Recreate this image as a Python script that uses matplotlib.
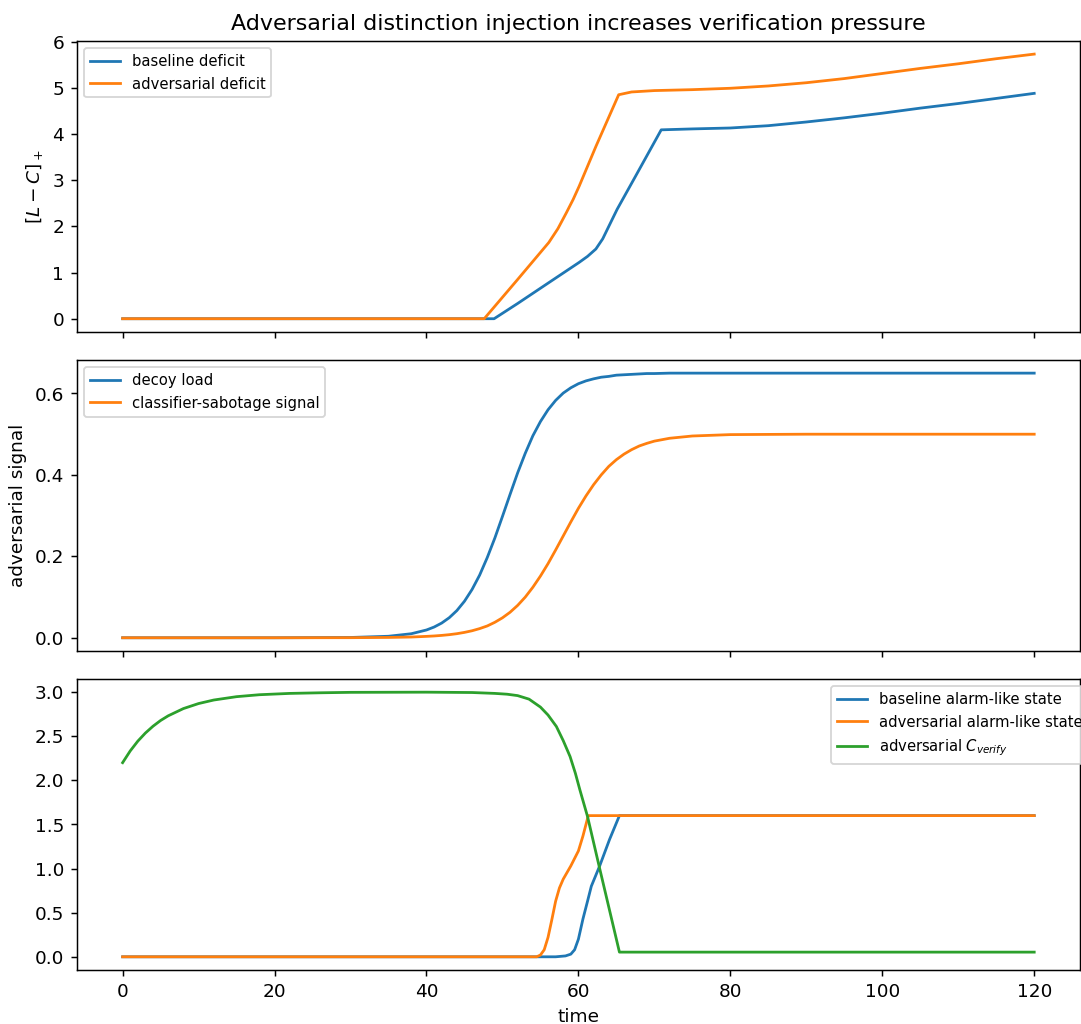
import matplotlib
matplotlib.use("Agg")
import matplotlib.pyplot as plt

# top panel: deficit [L - C]+
t_base_def = [0, 10, 20, 30, 40, 48.9, 52, 56, 60.1, 61.2, 62.3, 63.2, 64, 65.1,
              67.4, 70.9, 75, 80, 85, 90, 95, 100, 105, 110, 115, 120]
base_def = [0, 0, 0, 0, 0, 0, 0.33, 0.77, 1.22, 1.35, 1.51, 1.73, 2.0, 2.37,
            3.05, 4.09, 4.11, 4.13, 4.18, 4.26, 4.35, 4.45, 4.56, 4.66, 4.77, 4.88]
t_adv_def = [0, 10, 20, 30, 40, 47.6, 52, 56.1, 57.3, 58.4, 59.3, 60.1, 62.3,
             65.3, 67, 70, 75, 80, 85, 90, 95, 100, 105, 110, 115, 120]
adv_def = [0, 0, 0, 0, 0, 0, 0.85, 1.65, 1.95, 2.29, 2.58, 2.87, 3.73,
           4.85, 4.91, 4.94, 4.96, 4.99, 5.04, 5.11, 5.20, 5.31, 5.42, 5.52, 5.63, 5.73]

# middle panel: adversarial signals
t_sig = [0, 20, 30, 35, 38, 40, 41, 42, 43, 44, 45, 46, 47, 48, 49, 50, 51, 52,
         53, 54, 55, 56, 57, 58, 59, 60, 61, 62, 63, 64, 65, 66, 67, 68, 69, 70,
         72, 75, 80, 90, 120]
decoy = [0, 0, 0.0007, 0.0037, 0.0099, 0.0191, 0.0263, 0.0361, 0.0493, 0.0668,
         0.0897, 0.1186, 0.154, 0.197, 0.245, 0.298, 0.352, 0.405, 0.453, 0.496,
         0.531, 0.560, 0.583, 0.601, 0.614, 0.624, 0.631, 0.636, 0.640, 0.642,
         0.645, 0.646, 0.647, 0.648, 0.649, 0.649, 0.650, 0.650, 0.650, 0.650, 0.650]
sabotage = [0, 0, 0.0002, 0.0008, 0.0018, 0.0034, 0.0044, 0.0058, 0.0076, 0.010,
            0.0132, 0.0172, 0.0225, 0.029, 0.038, 0.049, 0.0626, 0.0795, 0.0998,
            0.124, 0.1515, 0.182, 0.2155, 0.250, 0.2845, 0.318, 0.3485, 0.376,
            0.400, 0.421, 0.4375, 0.451, 0.462, 0.471, 0.4775, 0.483, 0.490,
            0.4956, 0.499, 0.500, 0.500]

# bottom panel: alarm-like states and C_verify
t_base_alarm = [0, 20, 40, 55, 57, 58.3, 59, 59.5, 60, 60.6, 61.2, 61.7, 62.8,
                64.1, 65.4, 80, 100, 120]
base_alarm = [0, 0, 0, 0, 0, 0.01, 0.03, 0.08, 0.2, 0.43, 0.63, 0.80, 1.03,
              1.33, 1.6, 1.6, 1.6, 1.6]
t_adv_alarm = [0, 20, 40, 54.5, 55, 55.5, 56, 56.5, 57, 57.5, 58, 59, 60,
               60.6, 61.3, 80, 100, 120]
adv_alarm = [0, 0, 0, 0, 0.02, 0.08, 0.22, 0.42, 0.63, 0.78, 0.88, 1.03, 1.2,
             1.37, 1.6, 1.6, 1.6, 1.6]
t_cver = [0, 1, 2, 3, 4, 5, 6, 8, 10, 12, 15, 18, 22, 26, 30, 40, 46, 49,
          50.6, 52, 53.5, 55, 56, 57.1, 58, 58.9, 59.6, 60.2, 61.2, 62.8, 65.4,
          80, 100, 120]
c_verify = [2.2, 2.333, 2.444, 2.536, 2.613, 2.678, 2.731, 2.813, 2.870, 2.910,
            2.948, 2.970, 2.985, 2.992, 2.997, 2.999, 2.995, 2.985, 2.976, 2.96,
            2.92, 2.83, 2.74, 2.61, 2.45, 2.27, 2.08, 1.89, 1.59, 1.0, 0.053,
            0.053, 0.053, 0.053]

fig, (ax1, ax2, ax3) = plt.subplots(3, 1, sharex=True, figsize=(8.135, 7.70), dpi=133)
fig.subplots_adjust(left=0.0712, right=0.998, top=0.96, bottom=0.0527, hspace=0.096)

ax1.plot(t_base_def, base_def, label="baseline deficit")
ax1.plot(t_adv_def, adv_def, label="adversarial deficit")
ax1.set_ylabel(r"$[L-C]_+$")
ax1.set_title("Adversarial distinction injection increases verification pressure")
ax1.legend(loc="upper left", fontsize=8)

ax2.plot(t_sig, decoy, label="decoy load")
ax2.plot(t_sig, sabotage, label="classifier-sabotage signal")
ax2.set_ylabel("adversarial signal")
ax2.legend(loc="upper left", fontsize=8)

ax3.plot(t_base_alarm, base_alarm, label="baseline alarm-like state")
ax3.plot(t_adv_alarm, adv_alarm, label="adversarial alarm-like state")
ax3.plot(t_cver, c_verify, label=r"adversarial $C_{verify}$")
ax3.set_xlabel("time")
ax3.legend(loc="upper left", bbox_to_anchor=(0.745, 1.0), fontsize=8)

fig.savefig("out.png", dpi=133)
